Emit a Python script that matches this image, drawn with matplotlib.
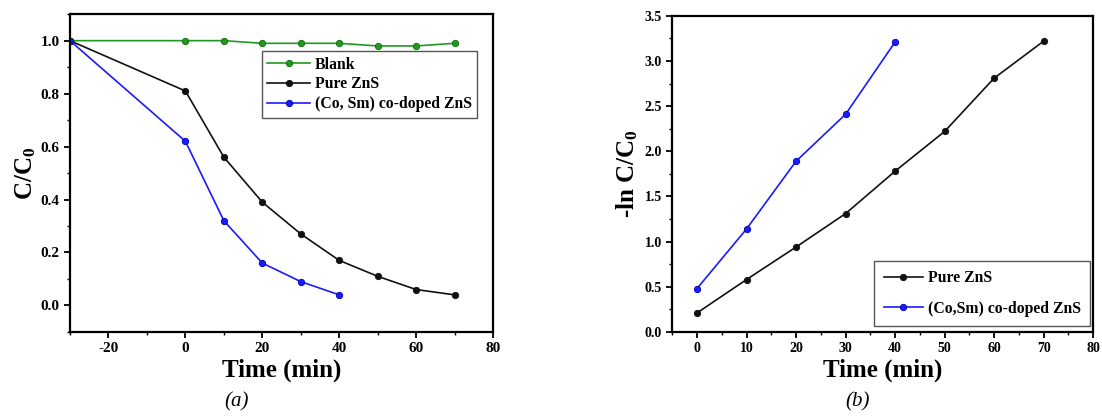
import matplotlib
matplotlib.use("Agg")
import matplotlib.pyplot as plt
from matplotlib.ticker import MultipleLocator

plt.rcParams['font.family'] = ['Liberation Serif', 'DejaVu Serif']
plt.rcParams['font.weight'] = 'bold'
plt.rcParams['axes.unicode_minus'] = False
plt.rcParams['mathtext.fontset'] = 'custom'
plt.rcParams['mathtext.rm'] = 'Liberation Serif:bold'
plt.rcParams['mathtext.bf'] = 'Liberation Serif:bold'
plt.rcParams['mathtext.it'] = 'Liberation Serif:bold:italic'

# Panel (a) data
time_a = [-30, 0, 10, 20, 30, 40, 50, 60, 70]
blank = [1.0, 1.0, 1.0, 0.99, 0.99, 0.99, 0.98, 0.98, 0.99]
pure_a = [1.0, 0.81, 0.56, 0.39, 0.27, 0.17, 0.11, 0.06, 0.04]
time_doped_a = [-30, 0, 10, 20, 30, 40]
doped_a = [1.0, 0.62, 0.32, 0.16, 0.09, 0.04]

# Panel (b) data
time_pure_b = [0, 10, 20, 30, 40, 50, 60, 70]
pure_b = [0.21, 0.58, 0.94, 1.31, 1.78, 2.22, 2.81, 3.22]
time_doped_b = [0, 10, 20, 30, 40]
doped_b = [0.48, 1.14, 1.89, 2.41, 3.21]

GREEN = '#1f9a1f'
BLUE = '#1a1aff'
BLACK = '#111111'

fig = plt.figure(figsize=(11.02, 4.17), dpi=100)
ax1 = fig.add_axes([0.0635, 0.204, 0.384, 0.762])
ax2 = fig.add_axes([0.610, 0.204, 0.382, 0.758])

mk = dict(marker='o', markersize=4.6, linewidth=1.2, markeredgewidth=0.6)
ax1.plot(time_a, blank, color=GREEN, markerfacecolor=GREEN, markeredgecolor='#0d6b0d', label='Blank', **mk)
ax1.plot(time_a, pure_a, color=BLACK, markerfacecolor=BLACK, markeredgecolor=BLACK, label='Pure ZnS', **mk)
ax1.plot(time_doped_a, doped_a, color=BLUE, markerfacecolor=BLUE, markeredgecolor='#0000aa', label='(Co, Sm) co-doped ZnS', **mk)

ax2.plot(time_pure_b, pure_b, color=BLACK, markerfacecolor=BLACK, markeredgecolor=BLACK, label='Pure ZnS', **mk)
ax2.plot(time_doped_b, doped_b, color=BLUE, markerfacecolor=BLUE, markeredgecolor='#0000aa', label='(Co,Sm) co-doped ZnS', **mk)

ax1.set_xlim(-30, 80)
ax1.set_ylim(-0.1, 1.1)
ax1.xaxis.set_minor_locator(MultipleLocator(10))
ax1.yaxis.set_minor_locator(MultipleLocator(0.1))
ax1.set_xticks([-20, 0, 20, 40, 60, 80])
ax1.set_yticks([0.0, 0.2, 0.4, 0.6, 0.8, 1.0])
ax1.set_yticklabels(['0.0', '0.2', '0.4', '0.6', '0.8', '1.0'])

ax2.set_xlim(-5, 80)
ax2.set_ylim(0, 3.5)
ax2.xaxis.set_minor_locator(MultipleLocator(5))
ax2.set_xticks([0, 10, 20, 30, 40, 50, 60, 70, 80])
ax2.yaxis.set_major_locator(MultipleLocator(0.5))
ax2.yaxis.set_minor_locator(MultipleLocator(0.25))

for ax, fs in ((ax1, 11), (ax2, 10)):
    for s in ax.spines.values():
        s.set_linewidth(1.6)
    ax.tick_params(which='major', direction='out', length=4, width=1.3, labelsize=fs)
    ax.tick_params(which='minor', direction='out', length=2.5, width=1.0)
    for lab in ax.get_xticklabels() + ax.get_yticklabels():
        lab.set_fontweight('bold')
        lab.set_fontsize(fs)

ax1.set_xlabel('Time (min)', fontsize=18, fontweight='bold', labelpad=2)
ax1.set_ylabel('C/C$_\\mathbf{0}$', fontsize=18, fontweight='bold', labelpad=2)
ax2.set_xlabel('Time (min)', fontsize=18, fontweight='bold', labelpad=2)
ax2.set_ylabel('-ln C/C$_\\mathbf{0}$', fontsize=18, fontweight='bold', labelpad=3)

leg1 = ax1.legend(loc='upper right', bbox_to_anchor=(0.962, 0.884), borderaxespad=0,
                  prop={'weight': 'bold', 'size': 11.3}, fancybox=False, edgecolor='#555555',
                  handlelength=2.7, handletextpad=0.3, labelspacing=0.25, borderpad=0.35, framealpha=1)
leg1.get_frame().set_linewidth(1.0)
leg2 = ax2.legend(loc='lower right', bbox_to_anchor=(0.993, 0.019), borderaxespad=0,
                  prop={'weight': 'bold', 'size': 11.3}, fancybox=False, edgecolor='#555555',
                  handlelength=2.5, handletextpad=0.3, labelspacing=0.9, borderpad=0.6, framealpha=1)
leg2.get_frame().set_linewidth(1.0)

fig.text(0.215, 0.025, '(a)', fontsize=15, style='italic', fontweight='normal', ha='center')
fig.text(0.778, 0.025, '(b)', fontsize=15, style='italic', fontweight='normal', ha='center')

fig.savefig('out.png', dpi=100)
